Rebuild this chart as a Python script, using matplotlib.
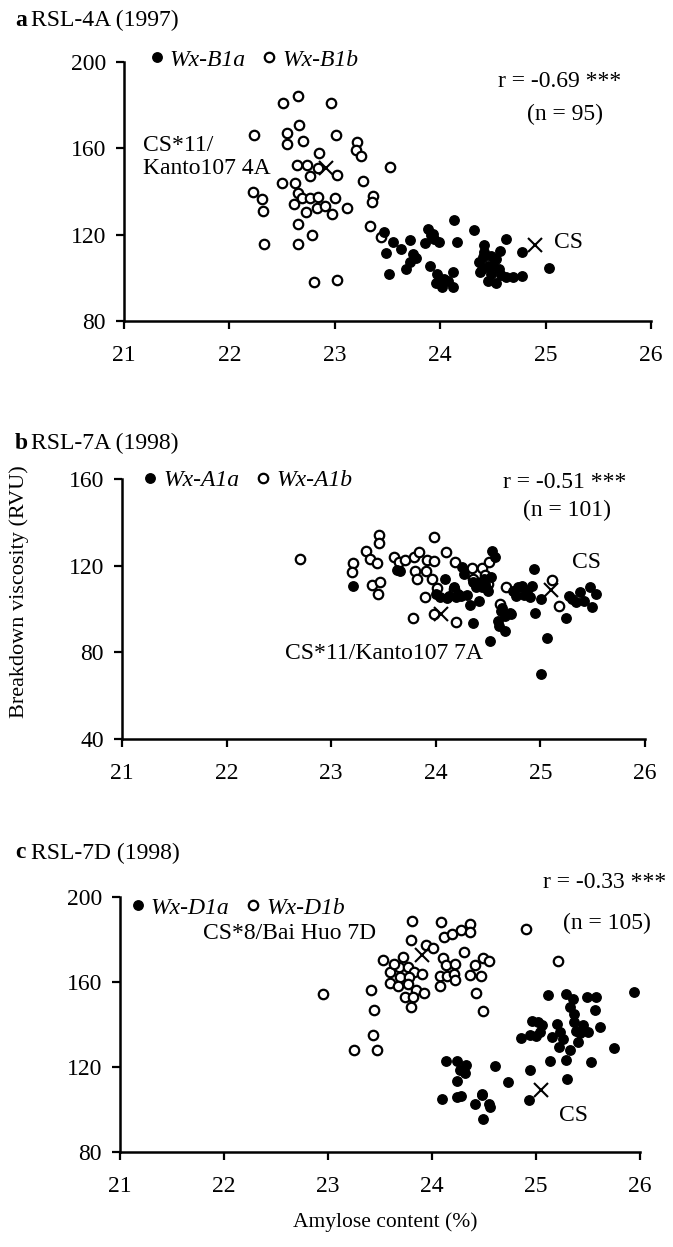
import matplotlib
matplotlib.use("Agg")
import matplotlib.pyplot as plt

plt.rcParams['font.family'] = ['Liberation Serif', 'DejaVu Serif']

# ---------------- Panel a: RSL-4A (1997) ----------------
a_open_x = [22.51, 22.65, 22.96, 22.23, 22.66, 22.55, 22.55, 22.70, 23.01, 23.21, 23.20, 23.25, 23.52,
            22.85, 22.64, 22.74, 22.76, 22.84, 23.02, 22.50, 22.62, 22.22, 22.31, 22.32, 22.65, 22.61,
            22.69, 22.76, 22.84, 22.73, 22.83, 22.91, 22.97, 23.00, 23.12, 23.27, 23.36, 23.35, 22.65,
            22.33, 22.65, 22.78, 22.80, 23.02, 23.33, 23.44]
a_open_y = [180.9, 184.1, 180.9, 166.2, 170.9, 166.9, 161.9, 163.4, 166.2, 163.1, 159.1, 156.4, 151.2,
            158.0, 152.5, 152.5, 147.0, 150.9, 147.8, 143.9, 143.9, 139.7, 136.6, 130.9, 139.2, 134.0,
            136.9, 136.9, 137.6, 130.6, 132.2, 133.4, 129.8, 137.2, 132.2, 144.7, 138.1, 135.0, 125.1,
            115.8, 115.8, 119.7, 98.1, 99.1, 124.0, 118.9]
a_fill_x = [23.47, 23.55, 23.49, 23.71, 23.88, 23.91, 23.99, 24.13, 24.16, 24.32, 24.42, 24.42, 24.62,
            24.57, 24.78, 25.03, 23.51, 23.68, 23.74, 23.71, 23.90, 23.97, 23.96, 24.04, 24.12, 24.12,
            24.02, 24.37, 24.38, 24.45, 24.48, 24.53, 24.56, 24.45, 24.53, 24.62, 24.69, 24.78, 24.48,
            23.63, 23.94, 23.77, 24.50, 24.41, 24.07, 24.58, 23.93, 24.40, 23.86]
a_fill_y = [121.2, 116.6, 111.5, 117.3, 122.8, 119.7, 116.6, 126.7, 116.6, 122.0, 115.0, 111.9, 118.1,
            112.6, 111.9, 104.4, 101.7, 104.0, 111.1, 107.2, 105.6, 101.7, 97.8, 99.4, 102.5, 95.8,
            95.8, 107.2, 102.5, 105.6, 101.7, 108.7, 104.0, 98.6, 97.8, 100.6, 100.2, 100.9, 110.3,
            113.4, 118.0, 109.0, 106.0, 109.5, 98.5, 101.5, 120.5, 104.0, 116.0]
a_cross_x = [22.92, 24.90]
a_cross_y = [150.9, 115.0]

# ---------------- Panel b: RSL-7A (1998) ----------------
b_open_x = [22.70, 23.21, 23.20, 23.33, 23.37, 23.44, 23.46, 23.46, 23.39, 23.47, 23.45, 23.60, 23.65,
            23.71, 23.79, 23.84, 23.92, 23.98, 23.80, 23.91, 23.82, 23.96, 23.90, 24.01, 24.17, 24.10,
            24.18, 23.98, 24.35, 24.44, 24.51, 24.36, 24.47, 24.50, 24.67, 25.11, 25.18, 23.78, 24.19,
            24.61, 23.98]
b_open_y = [123.2, 121.1, 116.9, 126.7, 123.2, 121.1, 134.0, 130.4, 111.2, 112.3, 106.9, 124.2, 121.6,
            122.4, 123.9, 126.2, 122.4, 122.1, 117.4, 117.4, 113.8, 113.8, 105.6, 109.9, 109.2, 126.2,
            121.6, 133.2, 119.0, 119.0, 121.9, 113.8, 115.7, 111.5, 110.3, 113.4, 101.4, 95.9, 94.1,
            102.2, 97.6]
b_fill_x = [23.21, 23.63, 23.66, 24.04, 24.11, 24.19, 24.24, 24.30, 24.41, 24.54, 24.38, 24.44, 24.49,
            24.59, 24.62, 24.66, 24.71, 24.52, 24.36, 24.74, 24.79, 24.82, 24.87, 24.94, 24.95, 25.06,
            25.01, 24.43, 24.50, 24.33, 25.01, 25.27, 25.34, 25.24, 25.47, 25.53, 25.49, 25.42, 25.30,
            24.25, 24.36, 24.46, 24.53, 24.47, 24.17, 24.21, 24.66, 24.72, 24.84, 24.90, 24.77, 24.57,
            24.00, 24.63, 24.13, 25.38, 24.92, 24.09, 24.27, 24.60]
b_fill_y = [110.8, 118.0, 117.4, 105.6, 105.3, 105.6, 106.1, 106.5, 103.7, 127.0, 110.0, 110.0, 109.2,
            94.4, 99.1, 96.7, 98.3, 85.1, 93.6, 108.4, 110.0, 110.8, 108.4, 118.5, 98.3, 86.6,
            69.8, 112.3, 108.4, 102.0, 104.6, 106.1, 103.0, 95.7, 110.3, 106.9, 101.0, 103.8, 104.6,
            119.3, 112.3, 113.9, 114.6, 111.6, 110.0, 107.0, 89.8, 97.9, 106.5, 105.5, 106.0, 124.0,
            107.0, 100.5, 106.0, 108.0, 110.5, 114.0, 116.0, 92.0]
b_cross_x = [24.05, 25.10]
b_cross_y = [97.9, 108.8]

# ---------------- Panel c: RSL-7D (1998) ----------------
c_open_x = [22.95, 23.41, 23.44, 23.43, 23.25, 23.47, 23.53, 23.81, 23.80, 23.72, 23.60, 23.68, 23.77,
            23.83, 23.90, 23.69, 23.78, 23.60, 23.67, 23.77, 23.85, 23.92, 23.74, 23.82, 23.80, 23.94,
            24.01, 24.09, 24.12, 24.19, 24.28, 24.37, 24.37, 24.11, 24.31, 24.13, 24.22, 24.08, 24.14,
            24.21, 24.22, 24.49, 24.55, 24.41, 24.37, 24.47, 24.42, 24.49, 24.90, 25.21, 23.63, 24.08]
c_open_y = [154.2, 156.1, 146.7, 134.9, 128.2, 128.2, 170.5, 188.6, 179.9, 171.8, 164.7, 167.0, 167.1,
            164.7, 163.6, 162.4, 162.5, 159.5, 158.0, 159.0, 156.1, 154.8, 152.9, 152.9, 148.2, 177.3,
            176.2, 188.2, 181.2, 182.4, 184.7, 187.5, 183.6, 171.5, 174.1, 168.0, 168.7, 162.7, 162.7,
            163.6, 160.8, 171.5, 169.7, 167.9, 163.2, 162.7, 154.8, 146.4, 185.1, 169.7, 168.5, 158.0]
c_fill_x = [24.13, 24.24, 24.32, 24.24, 24.10, 24.24, 24.28, 24.48, 24.41, 24.55, 24.61, 24.73, 24.49,
            24.48, 24.56, 24.93, 24.94, 25.13, 25.29, 25.30, 25.53, 25.75, 25.94, 24.86, 24.94, 25.00,
            25.04, 24.96, 25.02, 25.12, 25.20, 25.23, 25.29, 25.33, 25.37, 25.37, 25.38, 25.42, 25.49,
            25.58, 25.57, 25.50, 25.62, 25.22, 25.33, 25.15, 25.36, 25.45, 24.33, 25.06, 25.40, 24.27,
            25.26]
c_fill_y = [122.8, 122.8, 117.2, 113.4, 105.1, 105.9, 106.5, 107.5, 102.8, 102.8, 120.3, 112.9, 95.7,
            106.7, 101.2, 104.7, 118.4, 122.8, 123.5, 114.5, 122.4, 129.1, 155.3, 133.8, 135.0, 134.5,
            136.5, 141.5, 141.0, 153.7, 140.4, 136.5, 154.5, 148.2, 145.0, 141.0, 137.0, 136.0, 152.9,
            152.9, 147.0, 136.5, 138.8, 129.4, 127.9, 134.0, 152.0, 140.0, 121.0, 140.0, 132.0, 118.5,
            133.0]
c_cross_x = [23.90, 25.05]
c_cross_y = [172.6, 109.4]

x_ticks = [21, 22, 23, 24, 25, 26]
a_yticks = [80, 120, 160, 200]
b_yticks = [40, 80, 120, 160]
c_yticks = [80, 120, 160, 200]

W, H = 673, 1247
fig = plt.figure(figsize=(W / 100, H / 100), dpi=100)


def make_axes(left, top, right, bottom):
    return fig.add_axes([left / W, 1 - bottom / H, (right - left) / W, (bottom - top) / H])


FS = 17
MS = 6.8
MEW = 1.6


def style(ax, yticks):
    ax.set_xlim(21, 26)
    ax.set_ylim(yticks[0], yticks[-1])
    ax.set_xticks(x_ticks)
    ax.set_yticks(yticks)
    for s in ['top', 'right']:
        ax.spines[s].set_visible(False)
    for s in ['left', 'bottom']:
        ax.spines[s].set_linewidth(1.8)
    ax.tick_params(direction='out', length=6, width=1.6, labelsize=FS)
    ax.tick_params(axis='y', pad=7)
    ax.tick_params(axis='x', pad=11)


def draw(ax, fx, fy, ox, oy, cx, cy, lab1, lab2, anchor):
    h1, = ax.plot(fx, fy, 'o', ms=MS, mfc='black', mec='black', mew=1.0, ls='none',
                  clip_on=False, zorder=3)
    h2, = ax.plot(ox, oy, 'o', ms=MS, mfc='white', mec='black', mew=MEW, ls='none',
                  clip_on=False, zorder=2)
    ax.plot(cx, cy, 'x', ms=10, mec='black', mew=1.5, ls='none', clip_on=False, zorder=4)
    leg = ax.legend([h1, h2], [lab1, lab2], loc='upper left', bbox_to_anchor=anchor,
                    ncol=2, frameon=False, handlelength=0.4, handletextpad=0.35,
                    columnspacing=0.8, borderpad=0, borderaxespad=0,
                    prop={'family': 'Liberation Serif', 'style': 'italic', 'size': FS})
    return leg


def title(letter, rest, y_px):
    fig.text(15 / W, 1 - y_px / H, letter, fontsize=FS, fontweight='bold',
             va='center', ha='left')
    fig.text(31 / W, 1 - y_px / H, rest, fontsize=FS, va='center', ha='left')


# Panel a
ax_a = make_axes(124, 62, 651, 321)
style(ax_a, a_yticks)
draw(ax_a, a_fill_x, a_fill_y, a_open_x, a_open_y, a_cross_x, a_cross_y,
     'Wx-B1a', 'Wx-B1b', (0.053, 1.05))
ax_a.text(21.18, 161.5, 'CS*11/', fontsize=FS, va='center', ha='left')
ax_a.text(21.18, 150.5, 'Kanto107 4A', fontsize=FS, va='center', ha='left')
ax_a.text(25.13, 190.8, 'r = -0.69 ***', fontsize=FS, va='center', ha='center')
ax_a.text(25.18, 175.5, '(n = 95)', fontsize=FS, va='center', ha='center')
ax_a.text(25.08, 116.2, 'CS', fontsize=FS, va='center', ha='left')
title('a', 'RSL-4A (1997)', 20)

# Panel b
ax_b = make_axes(122, 479, 645, 739)
style(ax_b, b_yticks)
draw(ax_b, b_fill_x, b_fill_y, b_open_x, b_open_y, b_cross_x, b_cross_y,
     'Wx-A1a', 'Wx-A1b', (0.045, 1.035))
ax_b.text(25.23, 158.3, 'r = -0.51 ***', fontsize=FS, va='center', ha='center')
ax_b.text(25.25, 145.7, '(n = 101)', fontsize=FS, va='center', ha='center')
ax_b.text(25.44, 121.6, 'CS', fontsize=FS, va='center', ha='center')
ax_b.text(22.56, 79.3, 'CS*11/Kanto107 7A', fontsize=FS, va='center', ha='left')
title('b', 'RSL-7A (1998)', 443)

# Panel c
ax_c = make_axes(120, 897, 640, 1152)
style(ax_c, c_yticks)
draw(ax_c, c_fill_x, c_fill_y, c_open_x, c_open_y, c_cross_x, c_cross_y,
     'Wx-D1a', 'Wx-D1b', (0.025, 1.0))
ax_c.text(21.80, 183.0, 'CS*8/Bai Huo 7D', fontsize=FS, va='center', ha='left')
ax_c.text(25.66, 207.0, 'r = -0.33 ***', fontsize=FS, va='center', ha='center')
ax_c.text(25.68, 187.5, '(n = 105)', fontsize=FS, va='center', ha='center')
ax_c.text(25.36, 97.3, 'CS', fontsize=FS, va='center', ha='center')
title('c', 'RSL-7D (1998)', 853)

fig.text(19 / W, 1 - 592 / H, 'Breakdown viscosity (RVU)', rotation=90, fontsize=16,
         va='center', ha='center')
fig.text(385 / W, 1 - 1222 / H, 'Amylose content (%)', fontsize=15.5, va='center', ha='center')

fig.savefig('out.png', dpi=100)
